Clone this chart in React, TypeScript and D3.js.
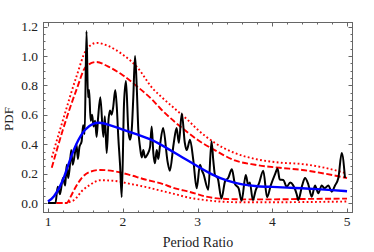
import React, { useEffect, useRef } from "react";
import * as d3 from "d3";

// ---- data ----
const xTicks = [1, 2, 3, 4, 5];
const yTicks = [0, 0.2, 0.4, 0.6, 0.8, 1.0, 1.2];

// noisy empirical PDF (black)
const empirical: [number, number][] = [
  [1.0, 0.0], [1.06, 0.0], [1.1, 0.0], [1.13, 0.11], [1.16, 0.06], [1.2, 0.17],
  [1.23, 0.12], [1.25, 0.26], [1.27, 0.17], [1.29, 0.24], [1.31, 0.36], [1.33, 0.26],
  [1.36, 0.34], [1.38, 0.4], [1.4, 0.3], [1.42, 0.38], [1.45, 0.42], [1.47, 0.53],
  [1.49, 0.47], [1.515, 1.17], [1.535, 0.72], [1.55, 0.77], [1.57, 0.56], [1.59, 0.6],
  [1.61, 0.52], [1.63, 0.56], [1.65, 0.45], [1.67, 0.58], [1.7, 0.72], [1.74, 0.45],
  [1.76, 0.59], [1.785, 0.34], [1.81, 0.57], [1.83, 0.63], [1.85, 0.6], [1.87, 0.645],
  [1.9, 0.77], [1.92, 0.655], [1.94, 0.45], [1.965, 0.25], [1.986, 0.04], [2.017, 0.68],
  [2.043, 0.83], [2.074, 0.5], [2.097, 0.43], [2.12, 0.5], [2.141, 0.72], [2.164, 1.0],
  [2.187, 0.79], [2.208, 0.5], [2.231, 0.38], [2.253, 0.31], [2.275, 0.36], [2.298, 0.31],
  [2.33, 0.33], [2.365, 0.38], [2.387, 0.52], [2.409, 0.34], [2.431, 0.27], [2.454, 0.36],
  [2.476, 0.3], [2.5, 0.4], [2.54, 0.51], [2.6, 0.28], [2.63, 0.22], [2.68, 0.4],
  [2.72, 0.51], [2.75, 0.41], [2.79, 0.61], [2.83, 0.41], [2.855, 0.36], [2.9, 0.43],
  [2.944, 0.29], [2.989, 0.1], [3.033, 0.26], [3.06, 0.22], [3.078, 0.2], [3.144, 0.09],
  [3.187, 0.42], [3.211, 0.29], [3.234, 0.19], [3.27, 0.17], [3.32, 0.03], [3.37, 0.15],
  [3.41, 0.17], [3.46, 0.23], [3.5, 0.13], [3.55, 0.1], [3.59, 0.015], [3.645, 0.19],
  [3.68, 0.12], [3.7, 0.14], [3.74, 0.02], [3.78, 0.09], [3.82, 0.13], [3.88, 0.22],
  [3.93, 0.04], [3.98, 0.12], [4.04, 0.2], [4.07, 0.235], [4.1, 0.16], [4.148, 0.157],
  [4.193, 0.11], [4.24, 0.14], [4.28, 0.12], [4.327, 0.06], [4.348, 0.02], [4.4, 0.12],
  [4.438, 0.17], [4.48, 0.13], [4.528, 0.043], [4.572, 0.12], [4.616, 0.066], [4.661, 0.12],
  [4.7, 0.1], [4.75, 0.12], [4.795, 0.077], [4.84, 0.12], [4.884, 0.17], [4.929, 0.34],
  [4.973, 0.17],
];

// smooth model (blue)
const model: [number, number][] = [
  [1.0, 0.01], [1.08, 0.04], [1.16, 0.11], [1.22, 0.18], [1.29, 0.29], [1.38, 0.41],
  [1.5, 0.51], [1.6, 0.54], [1.68, 0.55], [1.8, 0.535], [2.0, 0.5], [2.2, 0.465],
  [2.4, 0.43], [2.6, 0.37], [2.8, 0.31], [3.0, 0.25], [3.2, 0.19], [3.4, 0.15],
  [3.6, 0.125], [3.8, 0.113], [4.0, 0.11], [4.2, 0.105], [4.4, 0.1], [4.6, 0.095],
  [4.8, 0.088], [5.0, 0.08],
];

// confidence bands (red)
const upperOuter: [number, number][] = [
  [1.05, 0.31], [1.2, 0.565], [1.38, 0.86], [1.51, 1.04], [1.65, 1.09], [1.8, 1.07],
  [2.0, 1.01], [2.2, 0.92], [2.4, 0.78], [2.5, 0.73], [2.7, 0.64], [2.87, 0.565],
  [3.0, 0.5], [3.23, 0.41], [3.5, 0.34], [3.77, 0.3], [4.1, 0.275], [4.4, 0.265],
  [4.7, 0.24], [5.0, 0.2],
];
const upperInner: [number, number][] = [
  [1.05, 0.24], [1.2, 0.5], [1.38, 0.77], [1.51, 0.93], [1.65, 0.96], [1.8, 0.93],
  [2.0, 0.87], [2.2, 0.79], [2.4, 0.7], [2.5, 0.645], [2.7, 0.55], [2.87, 0.48],
  [3.0, 0.43], [3.23, 0.36], [3.5, 0.29], [3.77, 0.26], [4.1, 0.24], [4.4, 0.225],
  [4.7, 0.2], [5.0, 0.17],
];
const lowerInner: [number, number][] = [
  [1.0, 0], [1.25, 0], [1.3, 0.04], [1.35, 0.09], [1.45, 0.17], [1.55, 0.21],
  [1.7, 0.225], [1.9, 0.215], [2.1, 0.19], [2.3, 0.16], [2.5, 0.135], [2.7, 0.1],
  [2.9, 0.075], [3.1, 0.045], [3.3, 0.03], [3.6, 0.025], [4.0, 0.025], [4.5, 0.028],
  [5.0, 0.03],
];
const lowerOuter: [number, number][] = [
  [1.0, 0], [1.25, 0], [1.3, 0.01], [1.35, 0.02], [1.45, 0.08], [1.55, 0.12],
  [1.7, 0.155], [1.9, 0.15], [2.1, 0.13], [2.3, 0.11], [2.5, 0.085], [2.7, 0.06],
  [2.9, 0.035], [3.1, 0.02], [3.3, 0.01], [3.6, 0.005], [4.0, 0.005], [4.5, 0.007],
  [5.0, 0.01],
];

const App: React.FC = () => {
  const svgRef = useRef<SVGSVGElement | null>(null);

  useEffect(() => {
    if (!svgRef.current) return;

    const width = 374;
    const height = 252;
    const plot = { left: 43, right: 353, top: 22, bottom: 213 };
    const font = "'Liberation Serif', 'Times New Roman', serif";
    const frameColor = "#666";

    d3.select(svgRef.current).selectAll("*").remove();
    const svg = d3
      .select(svgRef.current)
      .attr("width", width)
      .attr("height", height);

    const x = d3.scaleLinear().domain([0.933, 5.08]).range([plot.left, plot.right]);
    const y = d3.scaleLinear().domain([-0.068, 1.232]).range([plot.bottom, plot.top]);

    svg
      .append("defs")
      .append("clipPath")
      .attr("id", "plot-clip")
      .append("rect")
      .attr("x", plot.left)
      .attr("y", plot.top)
      .attr("width", plot.right - plot.left)
      .attr("height", plot.bottom - plot.top);

    const g = svg.append("g").attr("clip-path", "url(#plot-clip)");

    const line = d3
      .line<[number, number]>()
      .x((d) => x(d[0]))
      .y((d) => y(d[1]))
      .curve(d3.curveMonotoneX);

    // red bands
    const bands: { data: [number, number][]; dash: string }[] = [
      { data: upperOuter, dash: "1.8,2.4" },
      { data: upperInner, dash: "6,2.5" },
      { data: lowerInner, dash: "6,2.5" },
      { data: lowerOuter, dash: "1.8,2.4" },
    ];
    bands.forEach((b) => {
      g.append("path")
        .datum(b.data)
        .attr("d", line)
        .attr("fill", "none")
        .attr("stroke", "#ff0000")
        .attr("stroke-width", 1.9)
        .attr("stroke-dasharray", b.dash);
    });

    // black empirical curve
    g.append("path")
      .datum(empirical)
      .attr("d", line)
      .attr("fill", "none")
      .attr("stroke", "#000")
      .attr("stroke-width", 2)
      .attr("stroke-linejoin", "round");

    // blue model
    g.append("path")
      .datum(model)
      .attr("d", d3.line<[number, number]>().x((d) => x(d[0])).y((d) => y(d[1])).curve(d3.curveBasis))
      .attr("fill", "none")
      .attr("stroke", "#0000ff")
      .attr("stroke-width", 2.4);

    // frame
    svg
      .append("rect")
      .attr("x", plot.left + 0.5)
      .attr("y", plot.top + 0.5)
      .attr("width", plot.right - plot.left - 1)
      .attr("height", plot.bottom - plot.top - 1)
      .attr("fill", "none")
      .attr("stroke", frameColor)
      .attr("stroke-width", 1);

    // ticks on all four sides, pointing inward
    const xMinor = d3.range(1, 5.001, 0.2);
    const yMinor = d3.range(0, 1.2001, 0.05);
    const ticks = svg.append("g").attr("stroke", frameColor).attr("stroke-width", 1);
    xMinor.forEach((v) => {
      const major = Math.abs(v - Math.round(v)) < 1e-6;
      const len = major ? 4.5 : 2.5;
      const px = Math.round(x(v)) + 0.5;
      ticks.append("line").attr("x1", px).attr("x2", px).attr("y1", plot.bottom).attr("y2", plot.bottom - len);
      ticks.append("line").attr("x1", px).attr("x2", px).attr("y1", plot.top).attr("y2", plot.top + len);
    });
    yMinor.forEach((v) => {
      const major = Math.abs(v * 5 - Math.round(v * 5)) < 1e-6;
      const len = major ? 4.5 : 2.5;
      const py = Math.round(y(v)) + 0.5;
      ticks.append("line").attr("y1", py).attr("y2", py).attr("x1", plot.left).attr("x2", plot.left + len);
      ticks.append("line").attr("y1", py).attr("y2", py).attr("x1", plot.right).attr("x2", plot.right - len);
    });

    // tick labels
    svg
      .append("g")
      .selectAll("text")
      .data(xTicks)
      .enter()
      .append("text")
      .attr("x", (d) => x(d))
      .attr("y", 226)
      .attr("text-anchor", "middle")
      .style("font-family", font)
      .style("font-size", "13.5px")
      .attr("fill", "#222")
      .text((d) => String(d));

    svg
      .append("g")
      .selectAll("text")
      .data(yTicks)
      .enter()
      .append("text")
      .attr("x", 38)
      .attr("y", (d) => y(d) + 4.5)
      .attr("text-anchor", "end")
      .style("font-family", font)
      .style("font-size", "13.5px")
      .attr("fill", "#222")
      .text((d) => d.toFixed(1));

    // axis titles
    svg
      .append("text")
      .attr("x", 198)
      .attr("y", 247)
      .attr("text-anchor", "middle")
      .style("font-family", font)
      .style("font-size", "14px")
      .attr("fill", "#222")
      .text("Period Ratio");

    svg
      .append("text")
      .attr("transform", "translate(13,119) rotate(-90)")
      .attr("text-anchor", "middle")
      .style("font-family", font)
      .style("font-size", "13px")
      .attr("fill", "#222")
      .text("PDF");
  }, []);

  return (
    <svg
      ref={svgRef}
      style={{ position: "absolute", left: 0, top: 0, background: "#fff" }}
    ></svg>
  );
};

export default App;
